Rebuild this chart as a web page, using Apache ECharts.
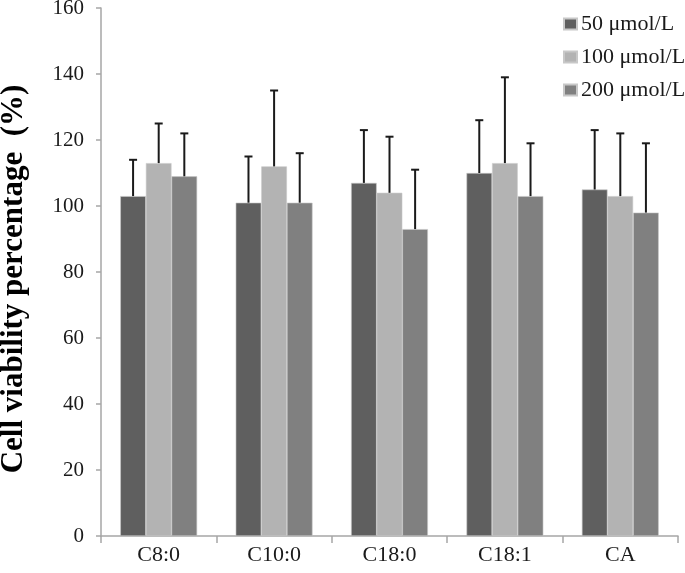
<!DOCTYPE html>
<html>
<head>
<meta charset="utf-8">
<script src="https://cdn.jsdelivr.net/npm/echarts@6/dist/echarts.min.js"></script>
<style>
html, body { margin: 0; padding: 0; background: #fff; }
#main { width: 685px; height: 573px; }
</style>
</head>
<body>
<div id="main"></div>
<script>
var categories = ['C8:0', 'C10:0', 'C18:0', 'C18:1', 'CA'];
var seriesNames = ['50 \u03bcmol/L', '100 \u03bcmol/L', '200 \u03bcmol/L'];
var mean50 = [103, 101, 107, 110, 105];
var mean100 = [113, 112, 104, 113, 103];
var mean200 = [109, 101, 93, 103, 98];
// top of the error bar (mean + sd)
var upper50 = [114, 115, 123, 126, 123];
var upper100 = [125, 135, 121, 139, 122];
var upper200 = [122, 116, 111, 119, 119];
var yTicks = [0, 20, 40, 60, 80, 100, 120, 140, 160];

var colors = ['#5f5f5f', '#b3b3b3', '#808080'];
var means = [mean50, mean100, mean200];
var uppers = [upper50, upper100, upper200];
var BAR_FRAC = 0.222;
var FONT = 'Liberation Serif';

function errorRender(offsetIdx) {
    return function (params, api) {
        var catW = api.size([1, 0])[0];
        var dx = (offsetIdx - 1) * catW * BAR_FRAC;
        var p0 = api.coord([api.value(0), api.value(1)]);
        var p1 = api.coord([api.value(0), api.value(2)]);
        var x = p0[0] + dx;
        var cap = 4;
        var style = { stroke: '#1a1a1a', lineWidth: 2 };
        return {
            type: 'group',
            children: [
                { type: 'line', shape: { x1: x, y1: p0[1], x2: x, y2: p1[1] }, style: style },
                { type: 'line', shape: { x1: x - cap, y1: p1[1], x2: x + cap, y2: p1[1] }, style: style }
            ]
        };
    };
}

var series = [];
for (var i = 0; i < 3; i++) {
    series.push({
        name: seriesNames[i],
        type: 'bar',
        barWidth: (BAR_FRAC * 100) + '%',
        barGap: '0%',
        itemStyle: { color: colors[i], borderColor: '#c8c8c8', borderWidth: 0.6 },
        data: means[i]
    });
}
for (var j = 0; j < 3; j++) {
    var d = [];
    for (var k = 0; k < categories.length; k++) {
        d.push([k, means[j][k], uppers[j][k]]);
    }
    series.push({
        type: 'custom',
        renderItem: errorRender(j),
        encode: { x: 0, y: [1, 2] },
        z: 5,
        silent: true,
        data: d
    });
}

var myChart = echarts.init(document.getElementById('main'));
var option = {
    animation: false,
    textStyle: { fontFamily: FONT },
    grid: { left: 101, right: 7, top: 8, bottom: 37, containLabel: false, outerBoundsMode: 'none' },
    legend: {
        data: seriesNames,
        orient: 'vertical',
        left: 563,
        top: 13,
        padding: 0,
        itemWidth: 13,
        itemHeight: 11,
        itemGap: 11,
        icon: 'rect',
        textStyle: { fontFamily: FONT, fontSize: 22, color: '#1a1a1a', padding: [0, 0, 0, -1] }
    },
    xAxis: {
        type: 'category',
        data: categories,
        axisLine: { lineStyle: { color: '#a6a6a6', width: 1.5 } },
        axisTick: { show: true, length: 7, interval: 0, lineStyle: { color: '#a6a6a6', width: 1.5 } },
        axisLabel: { fontFamily: FONT, fontSize: 22, color: '#1a1a1a', margin: 8, interval: 0 }
    },
    yAxis: {
        type: 'value',
        min: yTicks[0],
        max: yTicks[yTicks.length - 1],
        interval: yTicks[1] - yTicks[0],
        name: 'Cell viability percentage  (%)',
        nameLocation: 'middle',
        nameGap: 72,
        nameTextStyle: { fontFamily: FONT, fontSize: 31, fontWeight: 'bold', color: '#000', padding: [0, 14, 0, 0] },
        splitLine: { show: false },
        axisLine: { show: true, lineStyle: { color: '#a6a6a6', width: 1.5 } },
        axisTick: { show: true, length: 5, lineStyle: { color: '#a6a6a6', width: 1.5 } },
        axisLabel: { fontFamily: FONT, fontSize: 21, color: '#1a1a1a', margin: 17 }
    },
    series: series
};
myChart.setOption(option);
</script>
</body>
</html>
